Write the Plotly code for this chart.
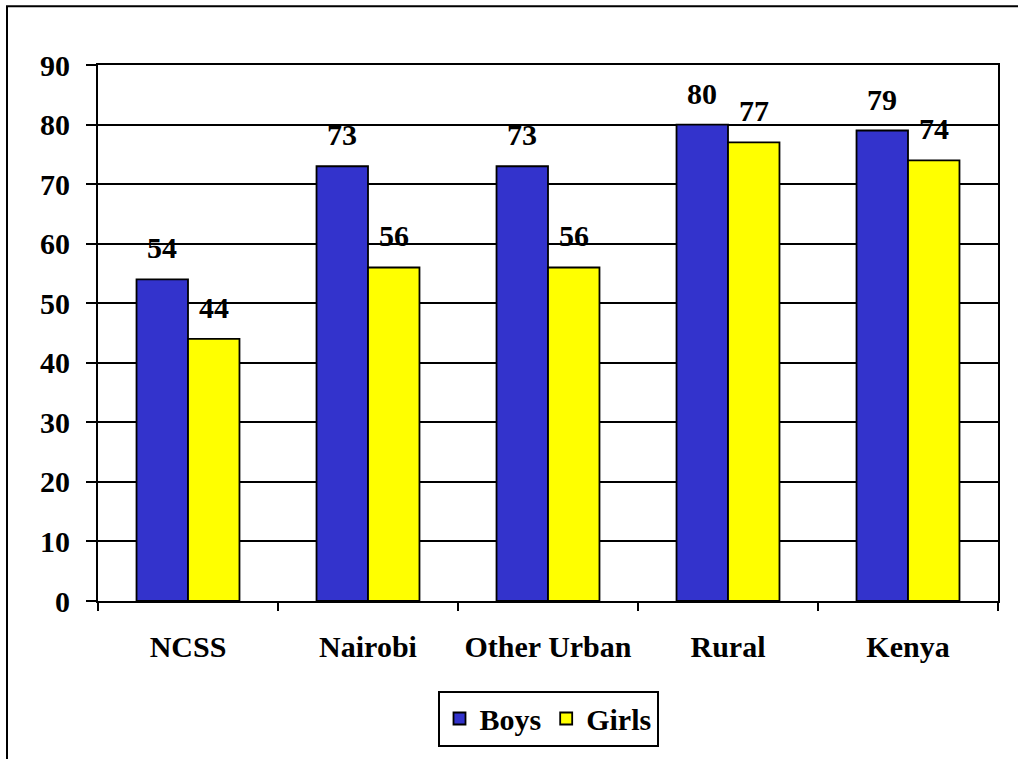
import plotly.graph_objects as go

categories = ["NCSS", "Nairobi", "Other Urban", "Rural", "Kenya"]
boys = [54, 73, 73, 80, 79]
girls = [44, 56, 56, 77, 74]
y_ticks = [0, 10, 20, 30, 40, 50, 60, 70, 80, 90]

FONT = "Times New Roman, Liberation Serif, serif"
FS = 30

fig = go.Figure()
fig.add_trace(go.Bar(name="Boys", x=categories, y=boys,
                     marker=dict(color="#3333CC", line=dict(color="black", width=1.8))))
fig.add_trace(go.Bar(name="Girls", x=categories, y=girls,
                     marker=dict(color="#FFFF00", line=dict(color="black", width=1.8))))

bar_px = 900 / len(categories) * (1 - 0.428) / 2
for vals, sh in ((boys, -bar_px / 2), (girls, bar_px / 2)):
    for c, v in zip(categories, vals):
        fig.add_annotation(x=c, y=v, xref="x", yref="y", text=str(v),
                           showarrow=False, yanchor="bottom", xshift=sh, yshift=13,
                           font=dict(family=FONT, size=FS, color="black", weight="bold"))

fig.add_shape(type="rect", xref="paper", yref="paper",
              x0=-91 / 900, x1=1.2, y0=-0.5, y1=(603 - 6) / 538,
              line=dict(color="black", width=2), fillcolor="rgba(0,0,0,0)", layer="below")

bold = dict(family=FONT, size=FS, color="black", weight="bold")

fig.update_layout(
    width=1018, height=759,
    margin=dict(l=98, r=20, t=65, b=156),
    paper_bgcolor="white", plot_bgcolor="white",
    barmode="group", bargap=0.428, bargroupgap=0,
    font=bold,
    showlegend=True,
    legend=dict(orientation="h", x=0.5, xanchor="center", y=-0.167, yanchor="top",
                bordercolor="black", borderwidth=2, bgcolor="white",
                font=bold, itemwidth=30, tracegroupgap=0),
    xaxis=dict(showline=True, linecolor="black", linewidth=2, mirror=True,
               ticks="outside", tickson="boundaries", ticklen=8, tickwidth=2, tickcolor="black",
               showgrid=False, ticklabelstandoff=18, tickfont=bold),
    yaxis=dict(range=[0, 90], showline=True, linecolor="black", linewidth=2, mirror=True,
               ticks="outside", ticklen=10, tickwidth=2, tickcolor="black",
               showgrid=True, gridcolor="black", gridwidth=1.5,
               tickvals=y_ticks, ticklabelstandoff=10, zeroline=False,
               tickfont=bold),
)

fig.write_html("out.html", config={"displayModeBar": False},
               post_script="document.body.style.margin='0';")
